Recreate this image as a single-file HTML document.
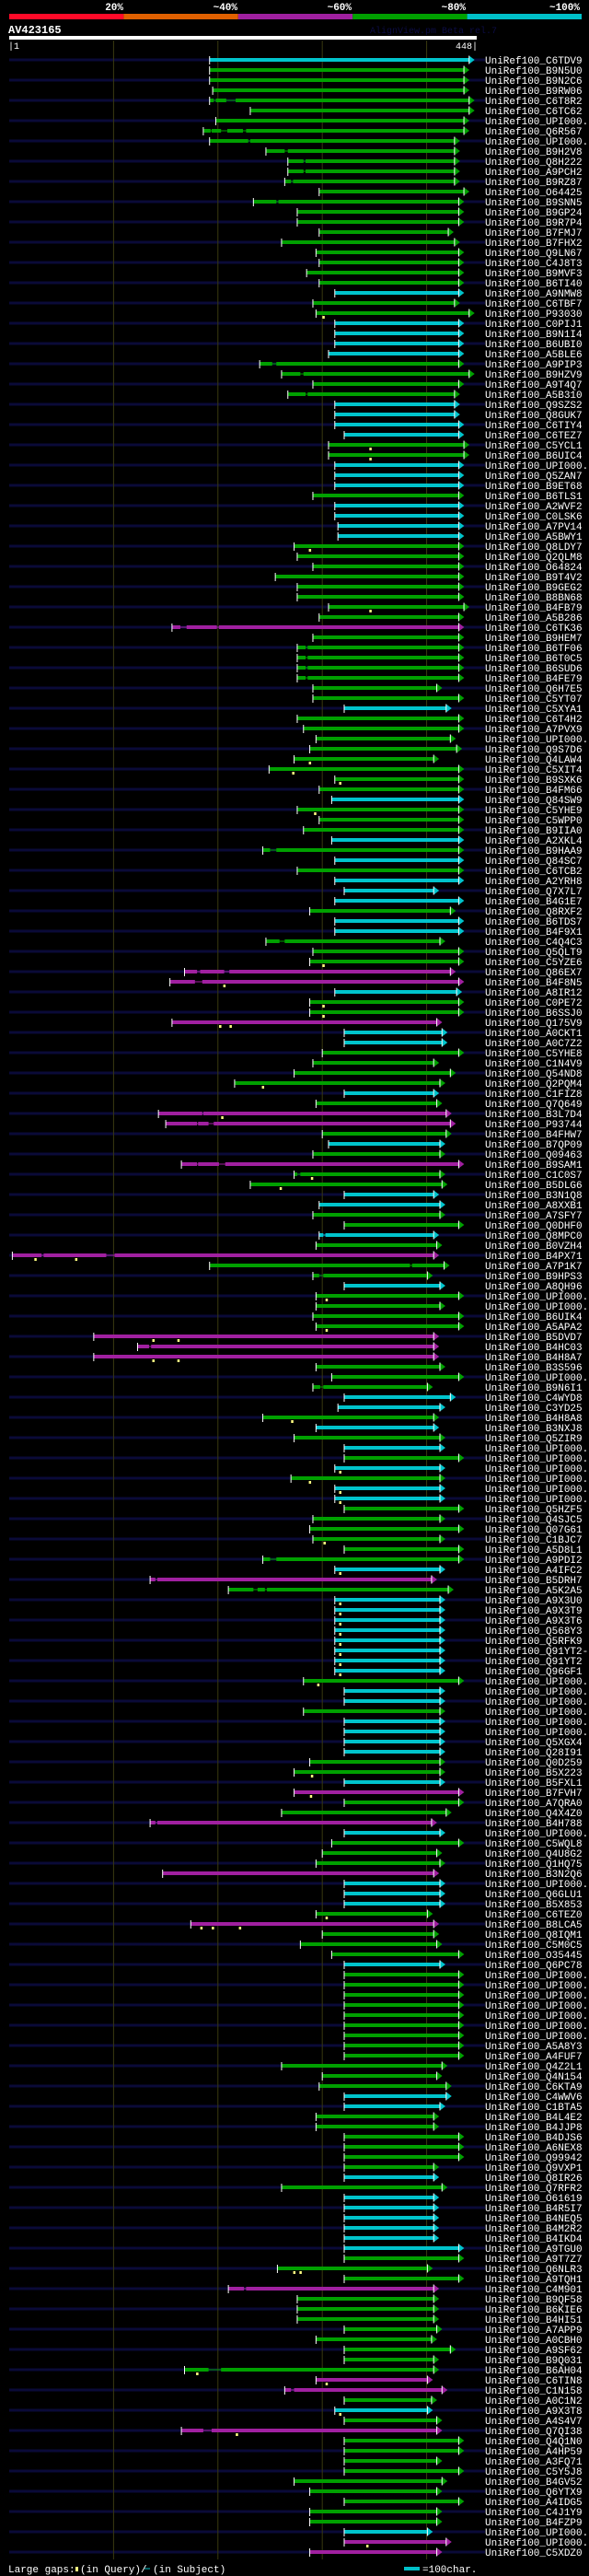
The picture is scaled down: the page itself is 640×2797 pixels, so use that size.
<!DOCTYPE html>
<html><head><meta charset="utf-8"><title>AlignView AV423165</title>
<style>
html,body{margin:0;padding:0;background:#000;}
svg{display:block;}
text{font-family:"Liberation Mono",monospace;}
</style></head>
<body>
<svg id="chart" xmlns="http://www.w3.org/2000/svg" width="640" height="2797" viewBox="0 0 640 2797">
<rect width="640" height="2797" fill="#000"/>
<g id="legend">
  <rect x="10" y="15" width="124.4" height="6" fill="#ff0a28"/>
  <rect x="134.4" y="15" width="124.4" height="6" fill="#e06000"/>
  <rect x="258.8" y="15" width="124.4" height="6" fill="#a020a0"/>
  <rect x="383.2" y="15" width="124.4" height="6" fill="#00a000"/>
  <rect x="507.6" y="15" width="124.4" height="6" fill="#00c0c8"/>
  <text x="134" y="11" fill="#fff" font-size="11" font-weight="bold" text-anchor="end">20%</text>
  <text x="258" y="11" fill="#fff" font-size="11" font-weight="bold" text-anchor="end">~40%</text>
  <text x="382" y="11" fill="#fff" font-size="11" font-weight="bold" text-anchor="end">~60%</text>
  <text x="506" y="11" fill="#fff" font-size="11" font-weight="bold" text-anchor="end">~80%</text>
  <text x="630" y="11" fill="#fff" font-size="11" font-weight="bold" text-anchor="end">~100%</text>
</g>
<text x="9" y="36" fill="#fff" font-size="12" font-weight="bold">AV423165</text>
<text x="402" y="36" fill="#0c0c44" font-size="10">AlignView.pm Beta rel.7</text>
<rect x="10" y="39" width="508" height="4" fill="#fff"/>
<text x="9" y="53" fill="#fff" font-size="10">|1</text>
<text x="519" y="53" fill="#fff" font-size="10" text-anchor="end">448|</text>
<g id="bg"></g>
<g id="grid"></g>
<g id="rows"></g>
<g id="footer">
  <text x="9" y="2793" fill="#fff" font-size="11">Large gaps:</text>
  <rect x="82" y="2787" width="3" height="5" fill="#ffff80"/>
  <text x="87" y="2793" fill="#fff" font-size="11">(in Query)/</text>
  <line x1="157" y1="2789" x2="163" y2="2789" stroke="#00c0c8" stroke-width="1"/>
  <text x="166" y="2793" fill="#fff" font-size="11">(in Subject)</text>
  <rect x="439" y="2787" width="17" height="4" fill="#00c0c8"/>
  <text x="459" y="2793" fill="#fff" font-size="11">=100char.</text>
</g>
</svg>
<script>
const QUERY_LEN = 448;
const gridTicks = [100, 200, 300, 400];
const ids = ["C6TDV9","B9N5U0","B9N2C6","B9RW06","C6T8R2","C6TC62","U","Q6R567","U","B9H2V8",
"Q8H222","A9PCH2","B9RZ87","O64425","B9SNN5","B9GP24","B9R7P4","B7FMJ7","B7FHX2","Q9LN67",
"C4J8T3","B9MVF3","B6TI40","A9NMW8","C6TBF7","P93030","C0PIJ1","B9N1I4","B6UBI0","A5BLE6",
"A9PIP3","B9HZV9","A9T4Q7","A5B310","Q9SZS2","Q8GUK7","C6TIY4","C6TEZ7","C5YCL1","B6UIC4",
"U","Q5ZAN7","B9ET68","B6TLS1","A2WVF2","C0LSK6","A7PV14","A5BWY1","Q8LDY7","Q2QLM8",
"O64824","B9T4V2","B9GEG2","B8BN68","B4FB79","A5B286","C6TK36","B9HEM7","B6TF06","B6T0C5",
"B6SUD6","B4FE79","Q6H7E5","C5YT07","C5XYA1","C6T4H2","A7PVX9","U","Q9S7D6","Q4LAW4",
"C5XIT4","B9SXK6","B4FM66","Q84SW9","C5YHE9","C5WPP0","B9IIA0","A2XKL4","B9HAA9","Q84SC7",
"C6TCB2","A2YRH8","Q7X7L7","B4G1E7","Q8RXF2","B6TDS7","B4F9X1","C4Q4C3","Q5QLT9","C5YZE6",
"Q86EX7","B4F8N5","A8IR12","C0PE72","B6SSJ0","Q175V9","A0CKT1","A0C7Z2","C5YHE8","C1N4V9",
"Q54ND8","Q2PQM4","C1FIZ8","Q7Q649","B3L7D4","P93744","B4FHW7","B7QP09","Q09463","B9SAM1",
"C1C0S7","B5DLG6","B3N1Q8","A8XXB1","A7SFY7","Q0DHF0","Q8MPC0","B0VZH4","B4PX71","A7P1K7",
"B9HPS3","A8QH96","U","U","B6UIK4","A5APA2","B5DVD7","B4HC03","B4H8A7","B3S596",
"U","B9N6I1","C4WYD8","C3YD25","B4H8A8","B3NXJ8","Q5ZIR9","U","U","U",
"U","U","U","Q5HZF5","Q4SJC5","Q07G61","C1BJC7","A5D8L1","A9PDI2","A4IFC2",
"B5DRH7","A5K2A5","A9X3U0","A9X3T9","A9X3T6","Q568Y3","Q5RFK9","Q91YT2-2","Q91YT2","Q96GF1",
"U","U","U","U","U","U","Q5XGX4","Q28I91","Q0D259","B5X223",
"B5FXL1","B7FVH7","A7QRA0","Q4X4Z0","B4H788","U","C5WQL8","Q4U8G2","Q1HQ75","B3N2Q6",
"U","Q6GLU1","B5X853","C6TEZ0","B8LCA5","Q8IQM1","C5M0C5","O35445","Q6PC78","U",
"U","U","U","U","U","U","A5A8Y3","A4FUF7","Q4Z2L1","Q4N154",
"C6KTA9","C4WWV6","C1BTA5","B4L4E2","B4JJP8","B4DJS6","A6NEX8","Q99942","Q9VXP1","Q8IR26",
"Q7RFR2","O61619","B4R5I7","B4NEQ5","B4M2R2","B4IKD4","A9TGU0","A9T7Z7","Q6NLR3","A9TQH1",
"C4M901","B9QF58","B6KIE6","B4HI51","A7APP9","A0CBH0","A9SF62","B9Q031","B6AH04","C6TIN8",
"C1N158","A0C1N2","A9X3T8","A4S4V7","Q7QI38","Q4Q1N0","A4HP59","A3FQ71","C5Y5J8","B4GV52",
"Q6YTX9","A4IDG5","C4J1Y9","B4FZP9","U","U","C5XDZ0"];
const identityClass = ("cggggggggg"+"gggggggggg"+"gggcggcccc"+"ggggccccgg"+"cccgccccgg"+
"ggggggmggg"+"ggggcggggg"+"gggcgggcgc"+"gcccgccggg"+"mmcggmccgg"+
"ggcgmmgcgm"+"ggccggcgmg"+"gcggggmmmg"+"ggccgcgcgc"+"gccggggggc"+
"mgcccccccc"+"gccgccccgg"+"cmggmcgggm"+"cccgmgggcg"+"gggggggggg"+
"gccggggggcc".slice(0,10)+"gccccccggg"+"mggggggggmg".slice(0,10)+"mgcgmggggg"+"ggggcmm").split("");
const starts = [192,192,192,195,192,231,198,186,192,246,
267,267,264,297,234,276,276,297,261,294,
297,285,297,312,291,294,312,312,312,306,
240,261,291,267,312,312,312,321,306,306,
312,312,312,291,312,312,315,315,273,276,
291,255,276,276,306,297,156,291,276,276,
276,276,291,291,321,276,282,294,288,273,
249,312,297,309,276,297,282,309,243,312,
276,312,321,312,288,312,312,246,291,288,
168,154,312,288,288,156,321,321,300,291,
273,216,321,294,143,150,300,306,291,165,
273,231,321,297,291,321,297,294,3,192,
291,321,294,294,291,294,81,123,81,294,
309,291,321,315,243,294,273,321,321,312,
270,312,312,321,291,288,291,321,243,312,
135,210,312,312,312,312,312,312,312,312,
282,321,321,282,321,321,321,321,288,273,
321,273,321,261,135,321,309,300,294,147,
321,321,321,294,174,300,279,309,321,321,
321,321,321,321,321,321,321,321,261,300,
297,321,321,294,294,321,321,321,321,321,
261,321,321,321,321,321,321,321,257,321,
210,276,276,276,321,294,321,321,168,294,
264,321,312,321,165,321,321,321,321,273,
288,321,288,288,321,321,288];
const ends = [446,441,441,441,446,446,441,441,432,432,
432,432,432,441,436,436,436,426,432,436,
436,436,436,436,432,446,436,436,436,436,
436,446,436,432,432,432,436,436,441,441,
436,436,436,436,436,436,436,436,436,436,
436,436,436,436,441,436,436,436,436,436,
436,436,415,436,424,436,436,428,434,412,
436,436,436,436,436,436,436,436,436,436,
436,436,412,436,428,436,436,418,436,436,
428,436,434,436,436,415,420,420,436,412,
428,418,412,415,424,428,424,418,418,436,
418,420,412,418,418,436,412,415,412,422,
406,418,436,418,436,436,412,412,412,418,
436,406,428,418,412,412,418,418,436,418,
418,418,418,436,418,436,418,436,436,418,
410,426,418,418,418,418,418,418,418,418,
436,418,418,418,418,418,418,418,418,418,
418,436,436,424,410,418,436,415,418,412,
418,418,418,406,412,412,415,436,418,436,
436,436,436,436,436,436,436,436,420,415,
424,424,418,412,412,436,436,436,412,412,
420,412,412,412,412,412,436,436,406,436,
412,412,412,412,415,410,428,412,412,406,
420,410,406,415,415,436,436,415,436,420,
415,436,415,415,406,424,415];
const qGapRow = [26,39,40,49,55,70,71,72,75,90,92,94,95,96,96,102,105,111,112,119,119,123,126,127,127,129,129,135,140,141,142,143,147,150,153,154,155,156,157,158,159,160,161,170,172,184,185,185,185,219,219,229,230,233,235,246];
const qGapPos = [301,346,346,288,346,288,272,317,293,301,206,301,301,202,212,243,204,290,260,25,64,304,304,138,162,138,162,271,317,288,317,317,302,317,317,317,317,317,317,317,317,317,296,290,289,304,184,195,221,273,279,180,304,317,218,343];
const sGapRow = [5,5,8,8,8,9,10,11,12,13,15,31,32,34,57,57,59,60,61,62,79,88,91,91,92,105,106,106,110,110,111,117,119,119,120,121,128,132,149,151,152,152,175,221,229,231,235];
const sGapFrom = [196,208,193,203,224,229,264,282,282,270,256,252,279,284,164,199,284,284,284,284,250,259,180,206,178,185,180,191,180,201,276,301,31,93,384,297,134,298,250,140,234,245,140,225,191,270,186];
const sGapTo = [198,217,194,209,227,231,267,284,284,272,258,256,282,286,170,201,286,286,286,286,256,264,183,211,185,186,181,196,181,207,279,303,33,101,386,301,136,301,256,142,238,247,142,227,203,273,194];

const COLORS = {c:"#00c4cc", g:"#00a000", m:"#a020a0"};
const NS = "http://www.w3.org/2000/svg";
const X0 = 10, X1 = 518;
function xScale(r){ return X0 + r * (X1 - X0) / QUERY_LEN; }
function yRow(i){ return 65 + i * 11; }
function mk(tag, attrs, parent){
  const el = document.createElementNS(NS, tag);
  for (const k in attrs) el.setAttribute(k, attrs[k]);
  parent.appendChild(el);
  return el;
}
const bg = document.getElementById("bg");
const grid = document.getElementById("grid");
const rowsG = document.getElementById("rows");

for (let i = 0; i < ids.length; i += 2) {
  const ln = mk("rect", {x: 10, y: yRow(i) - 1.5, width: 517, height: 3, fill: "#0a0a38"}, bg);
  
  
}
gridTicks.forEach(t => {
  const g = mk("line", {x1: xScale(t), x2: xScale(t), y1: 44, y2: 2779, stroke: "#3a3a10", "stroke-width": 1}, grid);
  
  
});

ids.forEach((id, i) => {
  const y = yRow(i);
  const col = COLORS[identityClass[i]] || "#00a000";
  const g = mk("g", {}, rowsG);
  
  
  const xs = xScale(starts[i]);
  const xe = xScale(ends[i]);
  const barEnd = xe - 6;
  // thin line underneath
  const thin = mk("rect", {x: xs, y: y - 0.5, width: Math.max(0, barEnd - xs), height: 1, fill: col}, g);
  
  
  // thick segments excluding subject gaps
  const gaps = [];
  sGapRow.forEach((r, k) => { if (r === i + 1) gaps.push([xScale(sGapFrom[k]), xScale(sGapTo[k])]); });
  gaps.sort((a, b) => a[0] - b[0]);
  let cur = xs;
  gaps.forEach(gp => {
    if (gp[0] > cur) {
      const s = mk("rect", {x: cur, y: y - 2, width: gp[0] - cur, height: 4, fill: col}, g);
      
      
    }
    cur = Math.max(cur, gp[1]);
  });
  if (barEnd > cur) {
    const s = mk("rect", {x: cur, y: y - 2, width: barEnd - cur, height: 4, fill: col}, g);
    
    
  }
  const tick = mk("rect", {x: xs - 0.5, y: y - 4, width: 1, height: 9, fill: "#fff"}, g);
  
  
  const arrow = mk("polygon", {points: (xe - 6) + "," + (y - 4.5) + " " + xe + "," + y + " " + (xe - 6) + "," + (y + 4.5), fill: col}, g);
  
  
  const aw = mk("rect", {x: xe - 6.5, y: y - 4.5, width: 1, height: 9, fill: "#fff"}, g);
  
  
  const label = mk("text", {x: 527, y: y + 4, fill: "#fff", "font-size": 11}, g);
  label.textContent = id === "U" ? "UniRef100_UPI000.." : "UniRef100_" + id;
  
  
});

qGapRow.forEach((r, k) => {
  const y = yRow(r - 1);
  const q = mk("rect", {x: xScale(qGapPos[k]) - 1, y: y + 3, width: 2.5, height: 3, fill: "#ffff80"}, rowsG);
  
  
});
</script>
</body></html>
